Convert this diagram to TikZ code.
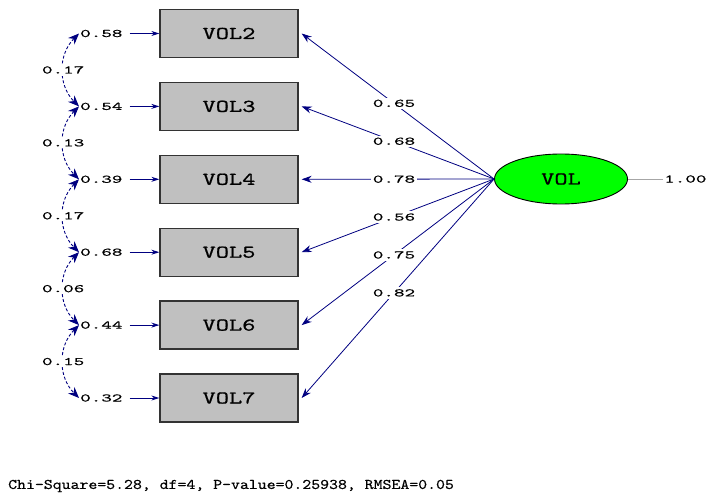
\documentclass[tikz,border=0pt]{standalone}
\usepackage{fontspec}
\usetikzlibrary{arrows.meta,shapes.geometric}
\newfontfamily\nmfont[FakeStretch=1.75,FakeBold=0.6]{lmmono10-regular.otf}
\newfontfamily\bxfont[FakeStretch=1.4,FakeBold=0.8]{lmmono10-regular.otf}
\newfontfamily\ftfont[FakeStretch=1.155,FakeBold=0.5]{lmmono10-regular.otf}
\definecolor{lnavy}{RGB}{0,0,128}
\definecolor{boxgray}{RGB}{192,192,192}
\definecolor{latgreen}{RGB}{0,255,0}
\begin{document}
\begin{tikzpicture}[x=1pt,y=-1pt,
 obsbox/.style={draw=black!80,line width=1.3pt,fill=boxgray,minimum width=138pt,minimum height=48pt,inner sep=0pt,font=\bxfont\fontsize{18}{18}\selectfont},
 latent/.style={ellipse,draw=black,line width=0.9pt,fill=latgreen,minimum width=133pt,minimum height=50pt,inner sep=0pt,font=\bxfont\fontsize{18}{18}\selectfont},
 numlab/.style={inner sep=1pt,font=\nmfont\fontsize{11.5}{11.5}\selectfont},
 midlab/.style={numlab,fill=white,inner sep=2pt},
 loadarrow/.style={draw=lnavy,line width=0.8pt,-{Stealth[length=10pt,width=7pt]}},
 errarrow/.style={draw=lnavy,line width=1pt,-{Stealth[length=8pt,width=5pt]},shorten <=6pt},
 covarrow/.style={draw=lnavy,line width=0.9pt,dash pattern=on 3pt off 2pt,{Stealth[length=11pt,width=9pt]}-{Stealth[length=11pt,width=9pt]}}
]
\useasboundingbox (0,0) rectangle (709,497);

% observed variables
\node[obsbox] (v2) at (229,33.5) {VOL2};
\node[obsbox] (v3) at (229,106.4) {VOL3};
\node[obsbox] (v4) at (229,179.3) {VOL4};
\node[obsbox] (v5) at (229,252.2) {VOL5};
\node[obsbox] (v6) at (229,325.1) {VOL6};
\node[obsbox] (v7) at (229,398) {VOL7};

% latent
\node[latent] (vol) at (561,179) {VOL};
\node[numlab,anchor=west] (var) at (663,179) {1.00};
\draw[gray!70,line width=0.8pt] (vol.east) -- (var.west);

% error variances
\node[numlab,anchor=west] (e2) at (79,33.5) {0.58};
\node[numlab,anchor=west] (e3) at (79,106.4) {0.54};
\node[numlab,anchor=west] (e4) at (79,179.3) {0.39};
\node[numlab,anchor=west] (e5) at (79,252.2) {0.68};
\node[numlab,anchor=west] (e6) at (79,325.1) {0.44};
\node[numlab,anchor=west] (e7) at (79,398) {0.32};
\foreach \i in {2,...,7}{
  \draw[errarrow] (e\i.east) -- (v\i.west);
}

% covariances
\draw[covarrow] (e2.west) to[out=225,in=135,looseness=1.05] node[midlab,pos=0.5] {0.17} (e3.west);
\draw[covarrow] (e3.west) to[out=225,in=135,looseness=1.05] node[midlab,pos=0.5] {0.13} (e4.west);
\draw[covarrow] (e4.west) to[out=225,in=135,looseness=1.05] node[midlab,pos=0.5] {0.17} (e5.west);
\draw[covarrow] (e5.west) to[out=225,in=135,looseness=1.05] node[midlab,pos=0.5] {0.06} (e6.west);
\draw[covarrow] (e6.west) to[out=225,in=135,looseness=1.05] node[midlab,pos=0.5] {0.15} (e7.west);

% loadings
\draw[loadarrow] (vol.west) -- node[midlab,pos=0.52] {0.65} ([xshift=3pt]v2.east);
\draw[loadarrow] (vol.west) -- node[midlab,pos=0.52] {0.68} ([xshift=3pt]v3.east);
\draw[loadarrow] (vol.west) -- node[midlab,pos=0.52] {0.78} ([xshift=3pt]v4.east);
\draw[loadarrow] (vol.west) -- node[midlab,pos=0.52] {0.56} ([xshift=3pt]v5.east);
\draw[loadarrow] (vol.west) -- node[midlab,pos=0.52] {0.75} ([xshift=3pt]v6.east);
\draw[loadarrow] (vol.west) -- node[midlab,pos=0.52] {0.82} ([xshift=3pt]v7.east);

% fit statistics
\node[anchor=west,inner sep=0pt,font=\ftfont\fontsize{14.7}{14.7}\selectfont] (fit) at (8,486) {Chi-Square=5.28, df=4, P-value=0.25938, RMSEA=0.05};
\end{tikzpicture}
\end{document}
